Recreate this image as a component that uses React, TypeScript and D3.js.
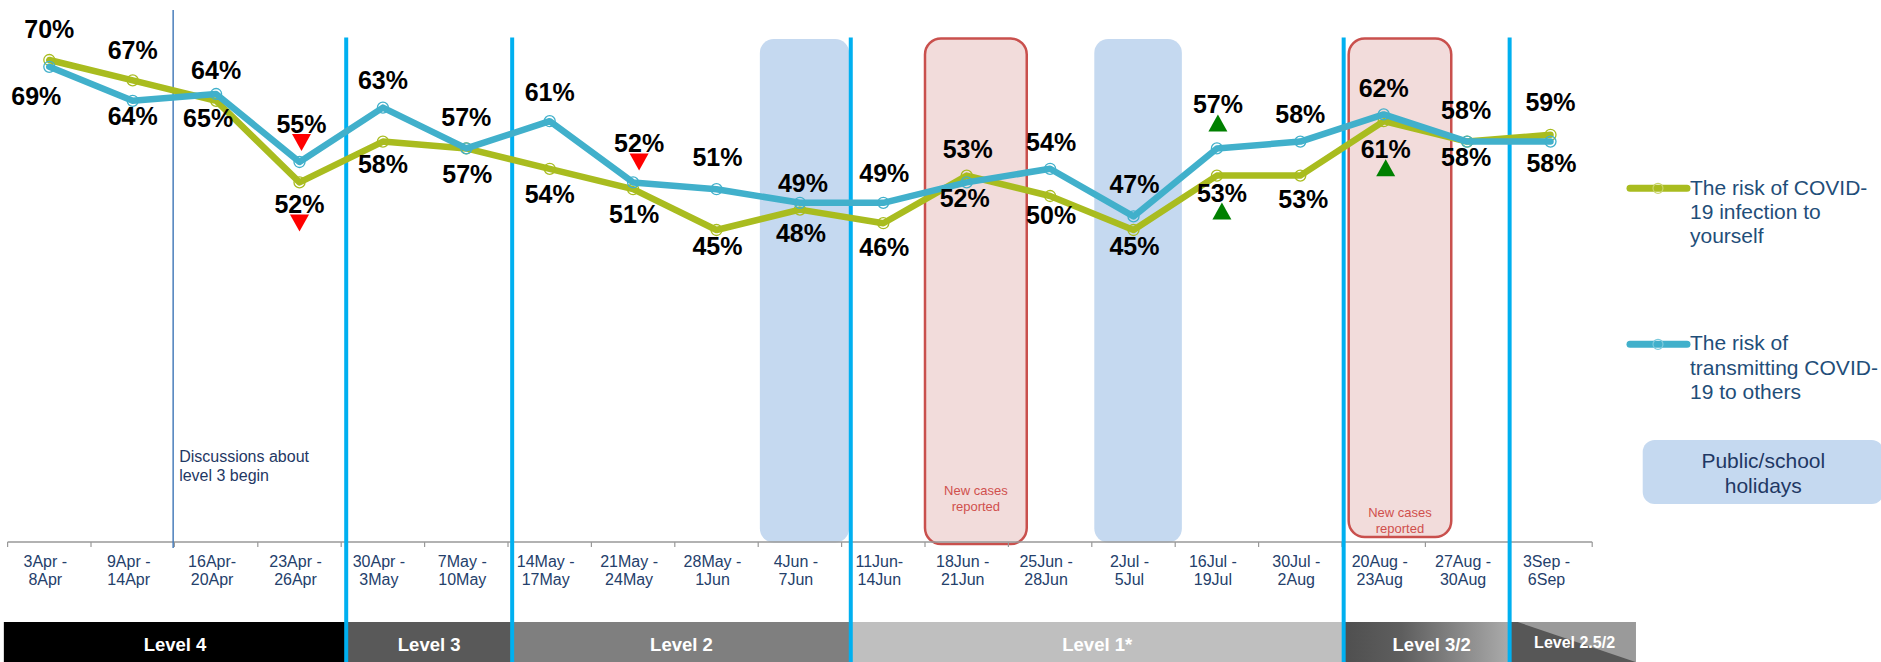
import React from "react";
import * as d3 from "d3";

// ---------- data ----------
const tickTop = ["3Apr -", "9Apr -", "16Apr-", "23Apr -", "30Apr -", "7May -", "14May -", "21May -", "28May -", "4Jun -", "11Jun-", "18Jun -", "25Jun -", "2Jul -", "16Jul -", "30Jul -", "20Aug -", "27Aug -", "3Sep -"];
const tickBottom = ["8Apr", "14Apr", "20Apr", "26Apr", "3May", "10May", "17May", "24May", "1Jun", "7Jun", "14Jun", "21Jun", "28Jun", "5Jul", "19Jul", "2Aug", "23Aug", "30Aug", "6Sep"];
const categories = tickTop.map((t, i) => `${t} ${tickBottom[i]}`);

const riskToSelf = [70, 67, 64, 52, 58, 57, 54, 51, 45, 48, 46, 53, 50, 45, 53, 53, 61, 58, 59];
const riskToOthers = [69, 64, 65, 55, 63, 57, 61, 52, 51, 49, 49, 52, 54, 47, 57, 58, 62, 58, 58];

// label nudges (px, relative to the point)
const selfLabelDy = [-22, -21, -22, 31, 31, 35, 34, 34, 25, 32, 33, -18, 28, 25, 26, 32, 37, -23, -24];
const othersLabelDy = [38, 24, 33, -29, -19, -22, -20, -30, -23, -11, -21, 25, -18, -23, -35, -19, -17, 24, 30];
const selfLabelDx = [0, 0, 0, 0, 0, 1, 0, 1, 1, 1, 1, 1, 1, 1, 5, 3, 2, -1, 0];
const othersLabelDx = [-13, 0, -8, 2, 0, 0, 0, 6, 1, 3, 1, -2, 1, 1, 1, 0, 0, -1, 1];

// significant change markers
const sigSeries = ["others", "self", "others", "others", "self", "self"];
const sigIndex = [3, 3, 7, 14, 14, 16];
const sigDir = ["down", "down", "down", "up", "up", "up"];

// alert levels (positions in category units)
const levelNames = ["Level 4", "Level 3", "Level 2", "Level 1*", "Level 3/2", "Level 2.5/2"];
const levelStarts = [-0.045, 4.06, 6.05, 10.11, 16.02, 18.01];
const levelEnds = [4.06, 6.05, 10.11, 16.02, 18.01, 19.52];

// shaded periods (category units)
const holidayStarts = [9.02, 13.03];
const holidayEnds = [10.09, 14.08];
const newCaseStarts = [11.0, 16.08];
const newCaseEnds = [12.22, 17.31];

const discussionAt = 1.985;

// ---------- styles ----------
const FONT = "'Liberation Sans', Arial, Helvetica, sans-serif";
const GREEN = "#A9BC1F";
const BLUE = "#41B0CB";
const NAVY = "#1F3864";
const LEG = "#1F4E79";

export default function App() {
  const W = 1881;
  const H = 662;
  const n = categories.length;
  const axisY = 542;

  const x = d3.scaleBand<string>().domain(categories).range([7.6, 1592.2]).padding(0);
  const bw = x.bandwidth();
  const xu = d3.scaleLinear().domain([0, n]).range([7.6, 1592.2]);
  const y = d3.scaleLinear().domain([0, 100]).range([536, -144]);
  const cx = (i: number) => (x(categories[i]) as number) + bw / 2;

  const line = d3
    .line<number>()
    .x((_, i) => cx(i))
    .y((d) => y(d));

  const series = [
    { key: "self", values: riskToSelf, color: GREEN, dy: selfLabelDy, dx: selfLabelDx },
    { key: "others", values: riskToOthers, color: BLUE, dy: othersLabelDy, dx: othersLabelDx },
  ];

  const levelFills = ["#000000", "#595959", "#7F7F7F", "#BFBFBF", "url(#lvl32)", "#575757"];

  return (
    <div style={{ position: "absolute", left: 0, top: 0 }}>
      <svg width={W} height={H} style={{ display: "block", fontFamily: FONT }}>
        <defs>
          <linearGradient id="lvl32" x1="0" x2="1" y1="0" y2="0">
            <stop offset="0" stopColor="#4F4F4F" />
            <stop offset="0.35" stopColor="#5E5E5E" />
            <stop offset="1" stopColor="#ABABAB" />
          </linearGradient>
        </defs>
        <rect x={0} y={0} width={W} height={H} fill="#fff" />

        {/* holidays */}
        {holidayStarts.map((s, i) => (
          <rect key={"h" + i} x={xu(s)} y={39} width={xu(holidayEnds[i]) - xu(s)} height={503.5} rx={14} fill="#C5D9F0" />
        ))}
        {/* new cases */}
        {newCaseStarts.map((s, i) => (
          <rect
            key={"nc" + i}
            x={xu(s)}
            y={38.5}
            width={xu(newCaseEnds[i]) - xu(s)}
            height={i === 0 ? 505.5 : 498.5}
            rx={16}
            fill="#F2DCDB"
            stroke="#C9504D"
            strokeWidth={2.5}
          />
        ))}
        {newCaseStarts.map((s, i) => {
          const mx = (xu(s) + xu(newCaseEnds[i])) / 2;
          const b = i === 0 ? 495 : 517;
          return (
            <text key={"nct" + i} x={mx} textAnchor="middle" fontSize={13} fill="#D0504D">
              <tspan x={mx} y={b}>New cases</tspan>
              <tspan x={mx} y={b + 16}>reported</tspan>
            </text>
          );
        })}

        {/* axis */}
        <line x1={xu(0)} x2={xu(n)} y1={axisY} y2={axisY} stroke="#999" strokeWidth={1.5} />
        {d3.range(n + 1).map((i) => (
          <line key={"t" + i} x1={xu(i)} x2={xu(i)} y1={axisY} y2={axisY + 5} stroke="#999" strokeWidth={1.2} />
        ))}
        {categories.map((c, i) => (
          <text key={"tl" + i} textAnchor="middle" fontSize={16} fill="#24406B">
            <tspan x={cx(i) - 4} y={566.7}>{tickTop[i]}</tspan>
            <tspan x={cx(i) - 4} y={584.5}>{tickBottom[i]}</tspan>
          </text>
        ))}

        {/* level bar */}
        {levelNames.map((name, i) => {
          const x0 = xu(levelStarts[i]);
          const x1 = xu(levelEnds[i]);
          return (
            <g key={"lv" + i}>
              <rect x={x0} y={622} width={x1 - x0} height={40} fill={levelFills[i]} />
              {i === 5 && (
                <polygon points={`${x0 + 8},622 ${x1},622 ${x1},662`} fill="#9A9A9A" />
              )}
              <text
                x={(x0 + x1) / 2 + (i === 4 ? 5 : i === 5 ? 2 : 0)}
                y={i === 5 ? 648 : 651}
                textAnchor="middle"
                fontSize={i === 5 ? 16 : 18.5}
                fontWeight="bold"
                fill="#fff"
              >
                {name}
              </text>
            </g>
          );
        })}

        {/* level change lines */}
        {levelStarts.slice(1).map((s, i) => (
          <line key={"ll" + i} x1={xu(s)} x2={xu(s)} y1={37.5} y2={662} stroke="#00B0F0" strokeWidth={4} />
        ))}

        {/* discussions line */}
        <line x1={xu(discussionAt)} x2={xu(discussionAt)} y1={10} y2={548} stroke="#4A7EBB" strokeWidth={1.5} />
        <text fontSize={16} fill={NAVY}>
          <tspan x={xu(discussionAt) + 6} y={461.7}>Discussions about</tspan>
          <tspan x={xu(discussionAt) + 6} y={480.7}>level 3 begin</tspan>
        </text>

        {/* series */}
        {series.map((s) => (
          <g key={s.key}>
            <path d={line(s.values) || ""} fill="none" stroke={s.color} strokeWidth={6.5} strokeLinejoin="round" strokeLinecap="round" />
            {s.values.map((v, i) => (
              <circle key={i} cx={cx(i)} cy={y(v)} r={5.5} fill="none" stroke={s.color} strokeWidth={1.3} />
            ))}
          </g>
        ))}

        {/* data labels */}
        {series.map((s) =>
          s.values.map((v, i) => (
            <text
              key={s.key + "l" + i}
              x={cx(i) + s.dx[i]}
              y={y(v) + s.dy[i]}
              textAnchor="middle"
              fontSize={25}
              fontWeight="bold"
              fill="#000"
            >
              {v}%
            </text>
          ))
        )}

        {/* significance triangles */}
        {sigIndex.map((idx, k) => {
          const s = sigSeries[k] === "self" ? series[0] : series[1];
          const tx = cx(idx) + s.dx[idx];
          const top = y(s.values[idx]) + s.dy[idx] + 1;
          const w = 19;
          const h = 17;
          const pts =
            sigDir[k] === "down"
              ? `${tx - w / 2},${top} ${tx + w / 2},${top} ${tx},${top + h}`
              : `${tx - w / 2},${top + h} ${tx + w / 2},${top + h} ${tx},${top}`;
          return <polygon key={"sig" + k} points={pts} fill={sigDir[k] === "down" ? "#FF0000" : "#008000"} />;
        })}

        {/* legend */}
        <g>
          <line x1={1630} x2={1687} y1={188.3} y2={188.3} stroke={GREEN} strokeWidth={7} strokeLinecap="round" />
          <circle cx={1658} cy={188.3} r={5} fill="none" stroke="#C8D46A" strokeWidth={1.2} />
          <text fontSize={21} fill={LEG}>
            <tspan x={1690} y={195}>The risk of COVID-</tspan>
            <tspan x={1690} y={219.3}>19 infection to</tspan>
            <tspan x={1690} y={242.7}>yourself</tspan>
          </text>
          <line x1={1630} x2={1687} y1={344.3} y2={344.3} stroke={BLUE} strokeWidth={7} strokeLinecap="round" />
          <circle cx={1658} cy={344.3} r={5} fill="none" stroke="#7CCADD" strokeWidth={1.2} />
          <text fontSize={21} fill={LEG}>
            <tspan x={1690} y={350}>The risk of</tspan>
            <tspan x={1690} y={375}>transmitting COVID-</tspan>
            <tspan x={1690} y={399.3}>19 to others</tspan>
          </text>
          <rect x={1642.7} y={440} width={241} height={64} rx={12} fill="#C5D9F0" />
          <text textAnchor="middle" fontSize={21} fill={NAVY}>
            <tspan x={1763.3} y={467.7}>Public/school</tspan>
            <tspan x={1763.3} y={492.7}>holidays</tspan>
          </text>
        </g>
      </svg>
    </div>
  );
}
